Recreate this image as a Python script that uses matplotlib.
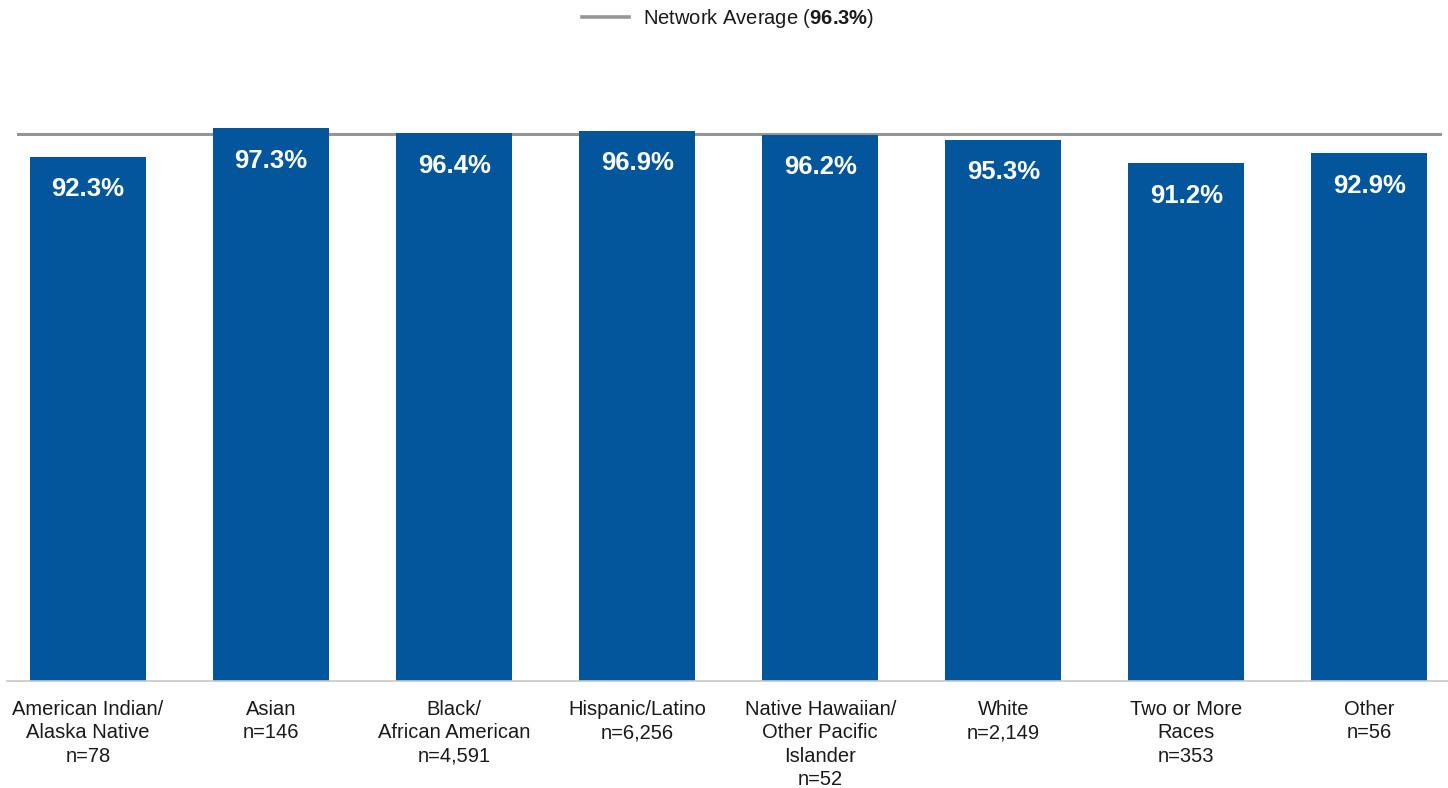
import numpy as np
import matplotlib as mpl
mpl.use("Agg")
import matplotlib.pyplot as plt
from matplotlib.lines import Line2D

# values per group (percent) and group sizes
groups = ["American Indian/\nAlaska Native", "Asian", "Black/\nAfrican American",
          "Hispanic/Latino", "Native Hawaiian/\nOther Pacific\nIslander", "White",
          "Two or More\nRaces", "Other"]
counts = ["78", "146", "4,591", "6,256", "52", "2,149", "353", "56"]
rates = [92.3, 97.3, 96.4, 96.9, 96.2, 95.3, 91.2, 92.9]
network_avg = 96.3

plt.rcParams['font.family'] = ['Liberation Sans', 'DejaVu Sans']
plt.rcParams['mathtext.fontset'] = 'custom'
plt.rcParams['mathtext.rm'] = 'Liberation Sans'
plt.rcParams['mathtext.bf'] = 'Liberation Sans:bold'

bar_color = "#03559c"
avg_color = "#969696"

fig = plt.figure(figsize=(14.48, 7.88), dpi=100)
ax = fig.add_axes([7 / 1448, (788 - 681) / 788, 1441 / 1448, 568 / 788])

x = np.arange(len(groups))
bars = ax.bar(x, rates, width=0.634, color=bar_color, zorder=2)

for xi, val in zip(x, rates):
    ax.annotate(f"{val:.1f}%", (xi, val), xytext=(0, -23.5), textcoords="offset points",
                ha="center", va="center", color="white", fontsize=18.5, fontweight="bold",
                zorder=3)

ax.axhline(network_avg, xmin=0.0076, xmax=0.9945, color=avg_color, lw=2.2, zorder=1)

ax.set_xlim(-0.443, 7.43)
ax.set_ylim(0, 100)
ax.set_xticks(x)
ax.set_xticklabels([f"{g}\nn={n}" for g, n in zip(groups, counts)],
                   fontsize=14.5, color="#1a1a1a", linespacing=1.3)
ax.tick_params(axis="x", length=0, pad=13.5)
ax.set_yticks([])
for side in ["top", "left", "right"]:
    ax.spines[side].set_visible(False)
ax.spines["bottom"].set_color("#c8c8c8")
ax.spines["bottom"].set_linewidth(1.2)

handle = Line2D([], [], color=avg_color, lw=2.6)
fig.legend([handle], [r"Network Average ($\mathbf{96.3\%}$)"], loc="center",
           bbox_to_anchor=(728 / 1448, 1 - 19 / 788), frameon=False, fontsize=14.5,
           handlelength=2.35, handletextpad=0.7, labelcolor="#1a1a1a")

fig.savefig("out.png", dpi=100)
